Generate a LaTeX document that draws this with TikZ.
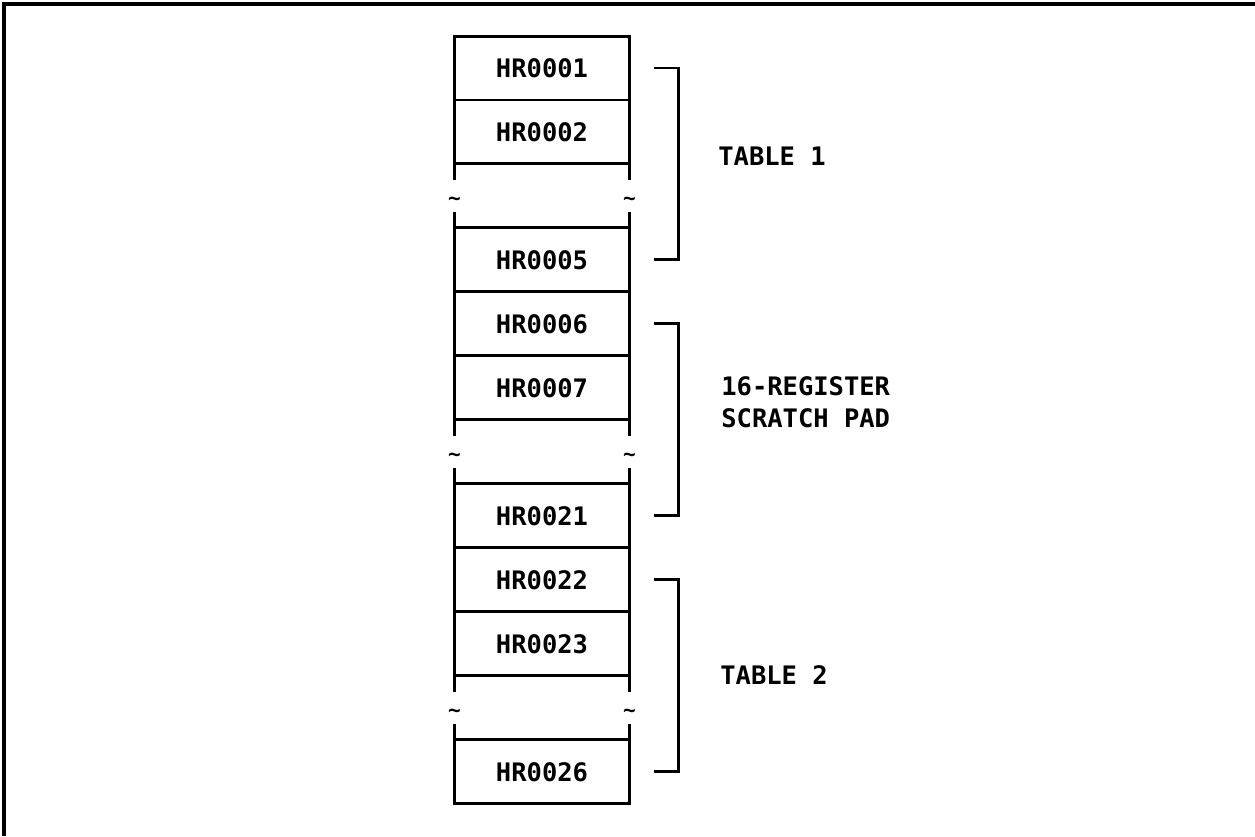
\documentclass[tikz,border=0pt]{standalone}
\usepackage{fontspec}
\setmainfont{DejaVu Sans Mono}
\usetikzlibrary{positioning}
\tikzset{
  regcell/.style={draw, line width=1.7pt, minimum width=3.5cm, minimum height=1.28cm,
    inner sep=0pt, outer sep=0pt, font=\bfseries\fontsize{14.5}{16}\selectfont},
  gapcell/.style={minimum width=3.5cm, minimum height=1.28cm, inner sep=0pt, outer sep=0pt},
  gapline/.style={line width=1.7pt},
  squiggle/.style={inner sep=0pt, yshift=-3pt, font=\bfseries\fontsize{12}{12}\selectfont},
  bracket/.style={line width=1.7pt},
  grouptext/.style={anchor=west, align=left, inner sep=0pt, font=\bfseries\fontsize{14.5}{18}\selectfont}
}

\begin{document}
\begin{tikzpicture}[x=0.02cm, y=-0.02cm]
  \useasboundingbox (0,0) rectangle (1255,836);
  % outer frame (only top and left edges show)
  \draw[line width=2.3pt] (1255,4) -- (4,4) -- (4,836);

  % register column
  \node[regcell] (hr1) at (542,68) {HR0001};
  \node[regcell, below=0pt of hr1] (hr2) {HR0002};
  \node[gapcell, below=0pt of hr2] (gap1) {};
  \node[regcell, below=0pt of gap1] (hr5) {HR0005};
  \node[regcell, below=0pt of hr5] (hr6) {HR0006};
  \node[regcell, below=0pt of hr6] (hr7) {HR0007};
  \node[gapcell, below=0pt of hr7] (gap2) {};
  \node[regcell, below=0pt of gap2] (hr21) {HR0021};
  \node[regcell, below=0pt of hr21] (hr22) {HR0022};
  \node[regcell, below=0pt of hr22] (hr23) {HR0023};
  \node[gapcell, below=0pt of hr23] (gap3) {};
  \node[regcell, below=0pt of gap3] (hr26) {HR0026};

  % broken sides of the gaps
  \foreach \g in {gap1, gap2, gap3} {
    \draw[gapline] (\g.north west) -- ++(0,16);
    \draw[gapline] (\g.south west) -- ++(0,-16);
    \draw[gapline] (\g.north east) -- ++(0,16);
    \draw[gapline] (\g.south east) -- ++(0,-16);
    \node[squiggle] (\g l) at (\g.west) {\textasciitilde};
    \node[squiggle] (\g r) at (\g.east) {\textasciitilde};
  }

  % group brackets
  \draw[bracket] ([xshift=0.5cm]hr1.east) -| ([xshift=0.98cm]hr5.east) -- ([xshift=0.5cm]hr5.east);
  \draw[bracket] ([xshift=0.5cm]hr6.east) -| ([xshift=0.98cm]hr21.east) -- ([xshift=0.5cm]hr21.east);
  \draw[bracket] ([xshift=0.5cm]hr22.east) -| ([xshift=0.98cm]hr26.east) -- ([xshift=0.5cm]hr26.east);

  % group names
  \node[grouptext] (tab1) at (718,156) {TABLE 1};
  \node[grouptext] (pad) at (721,402) {16-REGISTER\\SCRATCH PAD};
  \node[grouptext] (tab2) at (720,675) {TABLE 2};
\end{tikzpicture}
\end{document}
